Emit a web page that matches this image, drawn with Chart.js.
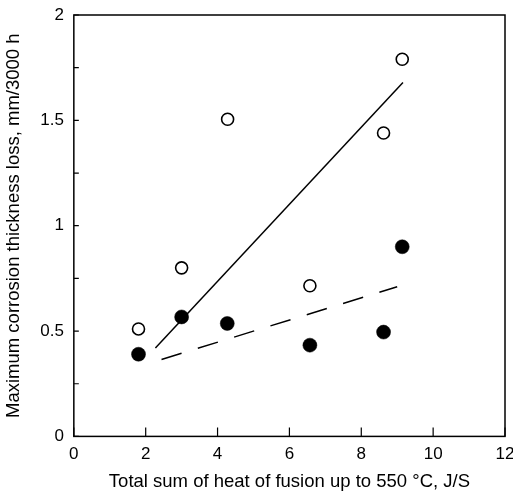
<!DOCTYPE html>
<html>
<head>
<meta charset="utf-8">
<script src="https://cdn.jsdelivr.net/npm/chart.js@4"></script>
<style>
    html, body { margin: 0; padding: 0; background: #fff; overflow: hidden; }
    #wrap { width: 540px; height: 493px; }
</style>
</head>
<body>
<div id="wrap"><canvas id="chart" width="540" height="493"></canvas></div>
<script>
// Open circles (upper group)
const openX = [1.8, 3.0, 4.28, 6.57, 8.62, 9.14];
const openY = [0.51, 0.80, 1.505, 0.715, 1.44, 1.79];

// Filled circles (lower group)
const filledX = [1.8, 3.0, 4.27, 6.57, 8.62, 9.14];
const filledY = [0.39, 0.567, 0.536, 0.433, 0.495, 0.90];

// Fitted lines, end points
const solidX = [2.27, 9.16];
const solidY = [0.42, 1.68];
const dashX = [2.44, 9.0];
const dashY = [0.365, 0.71];

const xTicks = [0, 2, 4, 6, 8, 10, 12];
const yTicks = [0, 0.5, 1, 1.5, 2];

const toPoints = (xs, ys) => xs.map((x, i) => ({ x: x, y: ys[i] }));

const FONT = 'Liberation Sans, Arial, sans-serif';

// box around plot + inward ticks
const framePlugin = {
    id: 'frame',
    afterDraw(chart) {
        const ctx = chart.ctx;
        const a = chart.chartArea;
        const xs = chart.scales.x, ys = chart.scales.y;
        ctx.save();
        ctx.strokeStyle = '#000';
        ctx.lineWidth = 1.5;
        ctx.strokeRect(a.left, a.top, a.right - a.left, a.bottom - a.top);
        ctx.lineWidth = 1.2;
        ctx.beginPath();
        xs.ticks.forEach(t => {
            const px = xs.getPixelForValue(t.value);
            ctx.moveTo(px, a.bottom);
            ctx.lineTo(px, a.bottom - 9);
        });
        ys.ticks.forEach(t => {
            const py = ys.getPixelForValue(t.value);
            ctx.moveTo(a.left, py);
            ctx.lineTo(a.left + 5, py);
        });
        ctx.stroke();
        ctx.restore();
    }
};

new Chart(document.getElementById('chart'), {
    type: 'scatter',
    data: {
        datasets: [
            {
                data: toPoints(solidX, solidY),
                showLine: true,
                borderColor: '#000',
                borderWidth: 1.5,
                pointRadius: 0
            },
            {
                data: toPoints(dashX, dashY),
                showLine: true,
                borderColor: '#000',
                borderWidth: 1.5,
                borderDash: [21, 17],
                pointRadius: 0
            },
            {
                data: toPoints(openX, openY),
                pointStyle: 'circle',
                pointRadius: 6,
                pointBackgroundColor: '#fff',
                pointBorderColor: '#000',
                pointBorderWidth: 1.6
            },
            {
                data: toPoints(filledX, filledY),
                pointStyle: 'circle',
                pointRadius: 7,
                pointBackgroundColor: '#000',
                pointBorderColor: '#000',
                pointBorderWidth: 0.5
            }
        ]
    },
    options: {
        responsive: false,
        animation: false,
        layout: {
            padding: { left: 2, right: 35, top: 0, bottom: 0 }
        },
        plugins: {
            legend: { display: false },
            tooltip: { enabled: false }
        },
        scales: {
            x: {
                type: 'linear',
                min: 0,
                max: 12,
                grid: { display: false, drawTicks: false },
                border: { display: false },
                afterBuildTicks: s => { s.ticks = xTicks.map(v => ({ value: v })); },
                ticks: {
                    color: '#000',
                    padding: 8,
                    maxRotation: 0,
                    font: { family: FONT, size: 17 }
                },
                title: {
                    display: true,
                    text: 'Total sum of heat of fusion up to 550 \u00b0C, J/S',
                    color: '#000',
                    padding: { top: -2, bottom: 0 },
                    font: { family: FONT, size: 18.5 }
                }
            },
            y: {
                type: 'linear',
                min: 0,
                max: 2,
                grid: { display: false, drawTicks: false },
                border: { display: false },
                afterFit: s => { s.paddingTop = 15; },
                ticks: {
                    stepSize: 0.25,
                    color: '#000',
                    padding: 10,
                    font: { family: FONT, size: 17 },
                    callback: v => yTicks.includes(v) ? String(v) : ''
                },
                title: {
                    display: true,
                    text: 'Maximum corrosion thickness loss, mm/3000 h',
                    color: '#000',
                    padding: { top: 1, bottom: 5 },
                    font: { family: FONT, size: 18.5 }
                }
            }
        }
    },
    plugins: [framePlugin]
});
</script>
</body>
</html>
